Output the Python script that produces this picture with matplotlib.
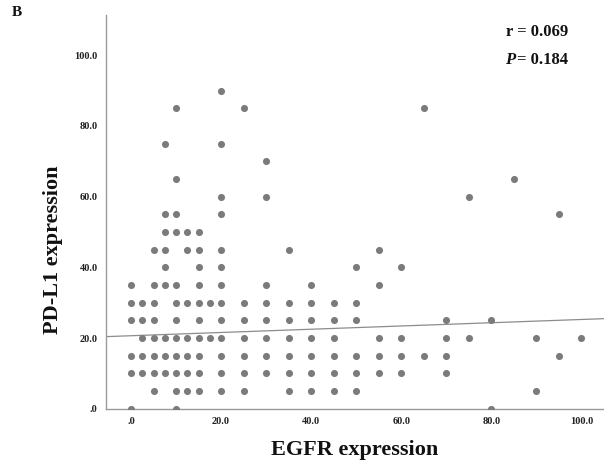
import matplotlib
matplotlib.use("Agg")
import matplotlib.pyplot as plt

# EGFR (x) vs PD-L1 (y) expression, one entry per point shown
egfr = [
    20,
    10, 25, 65,
    7.5, 20,
    30,
    10, 85,
    20, 30, 75,
    7.5, 10, 20, 95,
    7.5, 10, 12.5, 15,
    5, 7.5, 12.5, 15, 20, 35, 55,
    7.5, 15, 20, 50, 60,
    0, 5, 7.5, 10, 15, 20, 30, 40, 55,
    0, 2.5, 5, 10, 12.5, 15, 17.5, 20, 25, 30, 35, 40, 45, 50,
    0, 2.5, 5, 10, 15, 20, 25, 30, 35, 40, 45, 50, 70, 80,
    2.5, 5, 7.5, 10, 12.5, 15, 17.5, 20, 25, 30, 35, 40, 45, 55, 60, 70, 75, 90, 100,
    0, 2.5, 5, 7.5, 10, 12.5, 15, 20, 25, 30, 35, 40, 45, 50, 55, 60, 65, 70, 95,
    0, 2.5, 5, 7.5, 10, 12.5, 15, 20, 25, 30, 35, 40, 45, 50, 55, 60, 70,
    5, 10, 12.5, 15, 20, 25, 35, 40, 45, 50, 90,
    0, 10, 80,
]
pdl1 = [
    90,
    85, 85, 85,
    75, 75,
    70,
    65, 65,
    60, 60, 60,
    55, 55, 55, 55,
    50, 50, 50, 50,
    45, 45, 45, 45, 45, 45, 45,
    40, 40, 40, 40, 40,
    35, 35, 35, 35, 35, 35, 35, 35, 35,
    30, 30, 30, 30, 30, 30, 30, 30, 30, 30, 30, 30, 30, 30,
    25, 25, 25, 25, 25, 25, 25, 25, 25, 25, 25, 25, 25, 25,
    20, 20, 20, 20, 20, 20, 20, 20, 20, 20, 20, 20, 20, 20, 20, 20, 20, 20, 20,
    15, 15, 15, 15, 15, 15, 15, 15, 15, 15, 15, 15, 15, 15, 15, 15, 15, 15, 15,
    10, 10, 10, 10, 10, 10, 10, 10, 10, 10, 10, 10, 10, 10, 10, 10, 10,
    5, 5, 5, 5, 5, 5, 5, 5, 5, 5, 5,
    0, 0, 0,
]

# linear fit line
fit_intercept = 20.65
fit_slope = 0.046

r_value = "0.069"
p_value = "0.184"

ticks = [0, 20, 40, 60, 80, 100]
tick_labels = [".0", "20.0", "40.0", "60.0", "80.0", "100.0"]

serif = "Liberation Serif"

fig = plt.figure(figsize=(6.04, 4.67), dpi=100)
ax = fig.add_axes([0.1755, 0.1248, 0.8245, 0.8431])

ax.scatter(egfr, pdl1, s=26, color="#7b7b7b", linewidths=0, zorder=3)

xmin, xmax = -5.55, 105
ax.plot([xmin, xmax], [fit_intercept + fit_slope * xmin, fit_intercept + fit_slope * xmax],
        color="#8c8c8c", lw=0.9, zorder=2)

ax.set_xlim(xmin, xmax)
ax.set_ylim(0, 111.4)

ax.set_xticks(ticks)
ax.set_xticklabels(tick_labels)
ax.set_yticks(ticks)
ax.set_yticklabels(tick_labels)
ax.tick_params(length=0, pad=6)
for lab in ax.get_xticklabels() + ax.get_yticklabels():
    lab.set_fontfamily(serif)
    lab.set_fontweight("bold")
    lab.set_fontsize(7.5)
    lab.set_color("#222222")

for side in ["top", "right"]:
    ax.spines[side].set_visible(False)
for side in ["left", "bottom"]:
    ax.spines[side].set_color("#9a9a9a")
    ax.spines[side].set_linewidth(1.0)

fig.text(355 / 604, 1 - 450 / 467, "EGFR expression", ha="center", va="center",
         fontfamily=serif, fontweight="bold", fontsize=16, color="#111111")
fig.text(53 / 604, 1 - 250 / 467, "PD-L1 expression", ha="center", va="center",
         rotation=90, fontfamily=serif, fontweight="bold", fontsize=16, color="#111111")

fig.text(568 / 604, 1 - 32 / 467, "r = " + r_value, ha="right", va="center",
         fontfamily=serif, fontweight="bold", fontsize=12, color="#111111")

# "P" in bold italic, placed just left of the " = value" part
p_rest = fig.text(568 / 604, 1 - 60 / 467, "= " + p_value, ha="right", va="center",
                  fontfamily=serif, fontweight="bold", fontsize=12, color="#111111")
renderer = fig.canvas.get_renderer()
bb = p_rest.get_window_extent(renderer=renderer)
fig.text((bb.x0 - 2) / fig.bbox.width, 1 - 60 / 467, "P", ha="right", va="center",
         fontfamily=serif, fontweight="bold", fontstyle="italic", fontsize=12, color="#111111")

fig.text(17 / 604, 1 - 12 / 467, "B", ha="center", va="center",
         fontfamily=serif, fontweight="bold", fontsize=11, color="#111111")

fig.savefig("out.png", dpi=100)
